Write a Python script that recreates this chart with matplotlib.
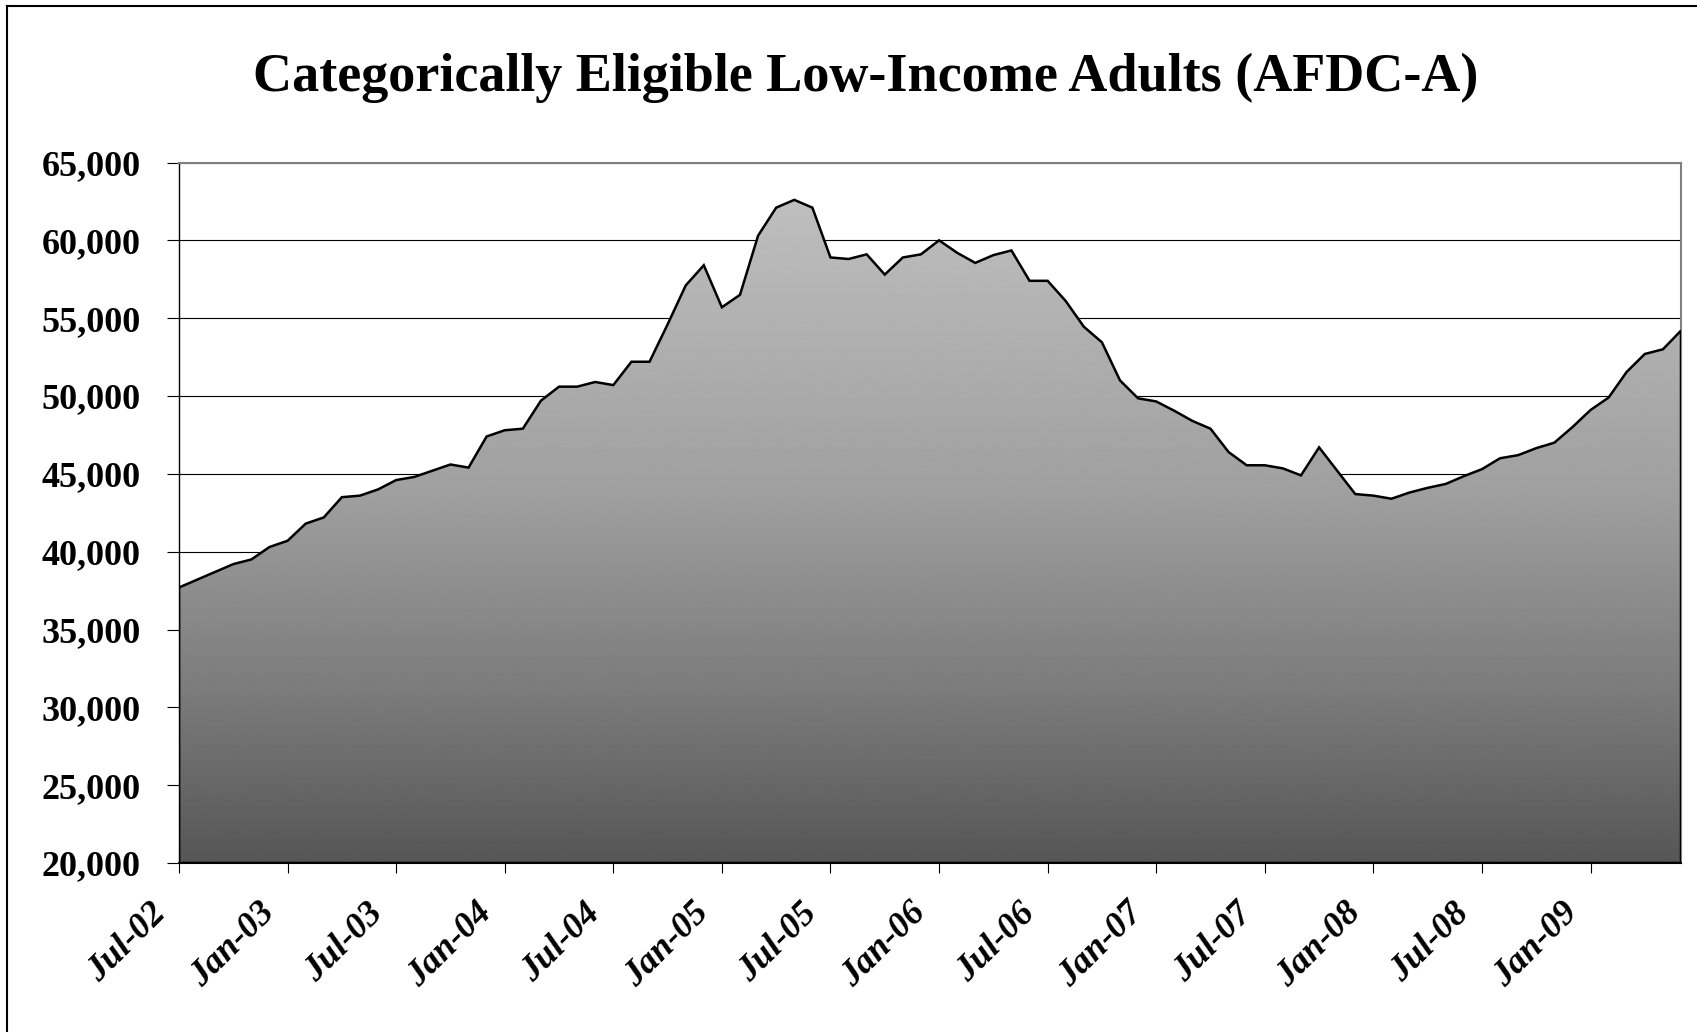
import matplotlib
matplotlib.use('Agg')
import matplotlib.pyplot as plt
import matplotlib.ticker as mticker
import matplotlib.transforms as mtransforms
from matplotlib.patches import Polygon
from matplotlib.lines import Line2D
import numpy as np
import pandas as pd

# monthly AFDC-A caseload, Jul-02 .. Jun-09
months = pd.date_range('2002-07-01', '2009-06-01', freq='MS')
caseload = [37700, 38200, 38700, 39200, 39500, 40300, 40700, 41800, 42200, 43500,
            43600, 44000, 44600, 44800, 45200, 45600, 45400, 47400, 47800, 47900,
            49700, 50600, 50600, 50900, 50700, 52200, 52200, 54600, 57100, 58400,
            55700, 56500, 60300, 62100, 62600, 62100, 58900, 58800, 59100, 57800,
            58900, 59100, 60000, 59200, 58550, 59050, 59350, 57400, 57400, 56100,
            54450, 53450, 51000, 49850, 49650, 49050, 48400, 47900, 46400, 45550,
            45550, 45350, 44900, 46700, 45200, 43700, 43600, 43400, 43800, 44100,
            44350, 44850, 45300, 46000, 46200, 46650, 47000, 48000, 49100, 49900,
            51550, 52700, 53000, 54200]
tick_labels = ['Jul-02', 'Jan-03', 'Jul-03', 'Jan-04', 'Jul-04', 'Jan-05', 'Jul-05',
               'Jan-06', 'Jul-06', 'Jan-07', 'Jul-07', 'Jan-08', 'Jul-08', 'Jan-09']
y_ticks = [20000, 25000, 30000, 35000, 40000, 45000, 50000, 55000, 60000, 65000]

title = 'Categorically Eligible Low-Income Adults (AFDC-A)'
serif = ['Liberation Serif', 'DejaVu Serif']

x = np.arange(len(months))
y = np.array(caseload)
ymin, ymax = 20000, 65000

fig = plt.figure(figsize=(16.97, 10.32), dpi=100)
ax = fig.add_axes([179 / 1697, 1 - 863 / 1032, (1681 - 179) / 1697, (863 - 162.5) / 1032])

# vertical grey gradient, lighter toward the top
levels = np.linspace(ymin, ymax, 400)
shade = np.interp(levels, [20000, 30500, 44000, 62600, 65000],
                  [0x56, 0x7a, 0xa0, 0xbe, 0xc2]) / 255.0
img = ax.imshow(shade[:, None], cmap='gray', vmin=0, vmax=1, aspect='auto',
                origin='lower', extent=[x[0], x[-1], ymin, ymax], zorder=2,
                interpolation='bilinear')
verts = np.vstack([[x[0], ymin], np.column_stack([x, y]), [x[-1], ymin]])
area = Polygon(verts, closed=True, facecolor='none', edgecolor='black',
               linewidth=1.8, zorder=3, joinstyle='miter')
ax.add_patch(area)
img.set_clip_path(area)

ax.set_xlim(x[0], x[-1])
ax.set_ylim(ymin, ymax)

ax.set_yticks(y_ticks)
ax.yaxis.set_major_formatter(mticker.StrMethodFormatter('{x:,.0f}'))
ax.yaxis.grid(True, color='black', linewidth=0.8)
ax.set_axisbelow(True)

ax.set_xticks(x[::6])
ax.set_xticklabels(tick_labels, rotation=45, ha='right', va='top')

ax.tick_params(axis='y', length=8.5, width=0.8, pad=19, direction='out')
ax.tick_params(axis='x', length=7.2, width=0.8, pad=17, direction='out')
for lab in ax.get_yticklabels():
    lab.set_fontfamily(serif)
    lab.set_fontweight('bold')
    lab.set_fontsize(26)
shift = mtransforms.ScaledTranslation(-6 / 100, 0, fig.dpi_scale_trans)
for lab in ax.get_xticklabels():
    lab.set_fontfamily(serif)
    lab.set_fontweight('bold')
    lab.set_fontstyle('italic')
    lab.set_fontsize(26)
    lab.set_transform(lab.get_transform() + shift)

ax.spines['top'].set_color('#808080')
ax.spines['right'].set_color('#808080')
ax.spines['top'].set_linewidth(1.5)
ax.spines['right'].set_linewidth(1.5)
ax.spines['left'].set_linewidth(1.0)
ax.spines['bottom'].set_linewidth(1.5)

fig.text(866 / 1697, 1 - 78 / 1032, title, ha='center', va='center',
         fontsize=39, fontweight='bold', family=serif)

# outer frame of the chart (runs off the right and bottom edges)
fig.add_artist(Line2D([7 / 1697, 1], [1 - 6 / 1032, 1 - 6 / 1032], color='black', linewidth=1.5))
fig.add_artist(Line2D([7 / 1697, 7 / 1697], [1 - 6 / 1032, 0], color='black', linewidth=1.5))

fig.savefig('out.png', dpi=100)
